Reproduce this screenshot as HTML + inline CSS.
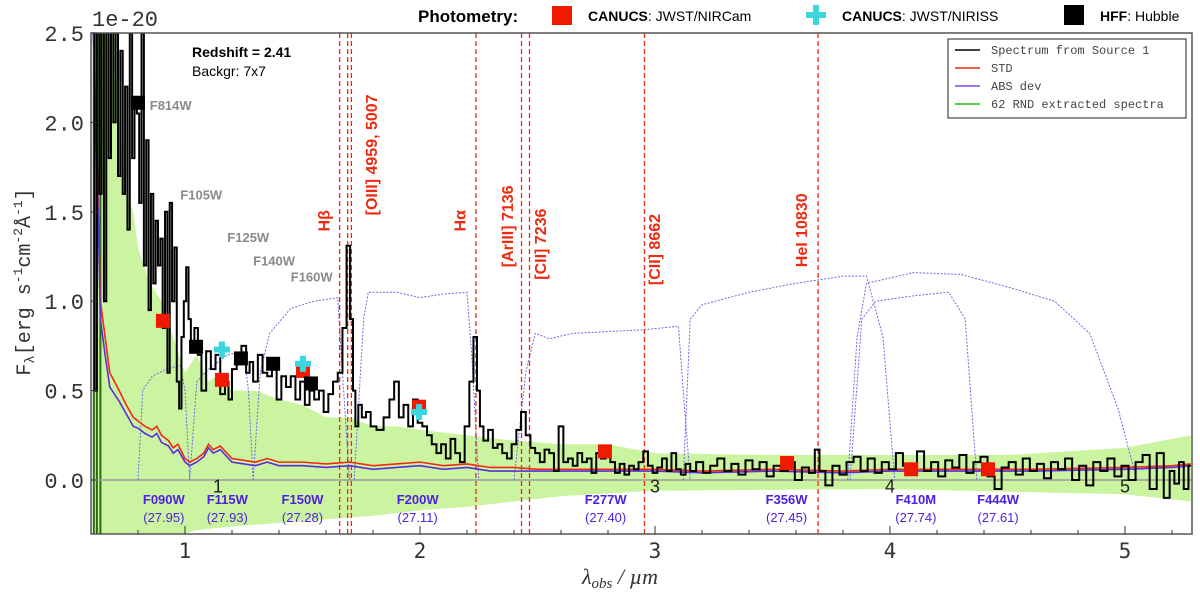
<!DOCTYPE html>
<html><head><meta charset="utf-8"><style>
body{margin:0;background:#fff;}
svg{display:block;font-family:"Liberation Sans",sans-serif;}
</style></head><body>
<svg id="c" width="1200" height="592" viewBox="0 0 1200 592">
<g>
<text x="418" y="22" font-size="17" font-weight="bold">Photometry:</text>
<rect x="552" y="6" width="20" height="19" fill="#f01a00"/>
<text x="588" y="21" font-size="14"><tspan font-weight="bold">CANUCS</tspan>: JWST/NIRCam</text>
<g><rect x="806" y="12" width="20" height="6" fill="#3cd6e0"/><rect x="813" y="5" width="6" height="20" fill="#3cd6e0"/></g>
<text x="842" y="21" font-size="14"><tspan font-weight="bold">CANUCS</tspan>: JWST/NIRISS</text>
<rect x="1064" y="5" width="20" height="20" fill="#000"/>
<text x="1100" y="21" font-size="14"><tspan font-weight="bold">HFF</tspan>: Hubble</text>
</g>
<g id="plot"></g>
</svg>
<script>
// ---- data ----
const specWave=[.61,.62,.63,.64,.65,.66,.67,.68,.69,.70,.71,.72,.73,.74,.75,.76,.77,.78,.79,.80,.81,.82,.83,.84,.85,.86,.87,.88,.89,.90,.91,.92,.93,.94,.95,.96,.97,.98,.99,1.00,1.01,1.02,1.03,1.05,1.06,1.08,1.10,1.12,1.14,1.16,1.18,1.19,1.21,1.23,1.25,1.27,1.28,1.30,1.32,1.34,1.36,1.38,1.40,1.42,1.44,1.46,1.48,1.50,1.52,1.54,1.56,1.58,1.60,1.62,1.64,1.66,1.68,1.695,1.71,1.72,1.73,1.745,1.76,1.78,1.80,1.83,1.86,1.88,1.90,1.92,1.94,1.96,1.98,2.00,2.02,2.04,2.06,2.08,2.10,2.12,2.14,2.16,2.18,2.20,2.22,2.235,2.25,2.26,2.28,2.30,2.32,2.34,2.36,2.38,2.40,2.42,2.44,2.46,2.48,2.50,2.52,2.54,2.56,2.58,2.60,2.62,2.64,2.66,2.68,2.70,2.72,2.74,2.76,2.78,2.80,2.82,2.84,2.86,2.88,2.90,2.92,2.94,2.96,2.98,3.00,3.02,3.04,3.06,3.08,3.10,3.12,3.14,3.16,3.19,3.22,3.25,3.28,3.31,3.34,3.37,3.40,3.43,3.46,3.49,3.52,3.55,3.58,3.61,3.64,3.67,3.69,3.71,3.74,3.77,3.80,3.83,3.86,3.89,3.92,3.95,3.98,4.01,4.04,4.07,4.10,4.13,4.16,4.19,4.22,4.25,4.28,4.31,4.34,4.37,4.40,4.43,4.46,4.49,4.52,4.55,4.58,4.61,4.64,4.67,4.70,4.73,4.76,4.79,4.82,4.85,4.88,4.91,4.94,4.97,5.00,5.03,5.06,5.09,5.12,5.15,5.18,5.20,5.22,5.24,5.26,5.28];
const specFlux=[2.5,0.5,2.5,1.6,2.5,1.0,2.5,1.8,2.5,2.0,2.5,1.7,2.4,1.6,2.2,1.4,2.5,1.8,2.1,2.05,1.55,2.5,1.2,1.9,0.95,1.6,1.1,1.45,1.2,1.35,0.85,1.5,0.6,1.55,1.0,1.3,0.55,0.4,0.8,1.0,1.19,0.9,0.75,0.85,0.7,0.5,0.72,0.62,0.7,0.48,0.55,0.45,0.62,0.7,0.75,0.6,0.66,0.55,0.7,0.6,0.58,0.62,0.45,0.58,0.52,0.58,0.45,0.55,0.42,0.5,0.45,0.5,0.38,0.48,0.55,0.6,0.85,1.31,0.9,0.5,0.3,0.42,0.35,0.38,0.3,0.28,0.35,0.45,0.55,0.35,0.42,0.3,0.45,0.32,0.3,0.25,0.2,0.15,0.2,0.12,0.23,0.15,0.1,0.3,0.55,0.8,0.5,0.3,0.22,0.28,0.18,0.2,0.15,0.12,0.2,0.28,0.38,0.25,0.18,0.15,0.1,0.17,0.15,0.05,0.3,0.1,0.12,0.08,0.15,0.1,0.12,0.04,0.15,0.12,0.17,0.1,0.04,0.09,0.03,0.08,0.06,0.1,0.16,0.08,0.04,0.07,0.12,0.05,0.15,0.06,0.03,0.09,0.05,0.1,0.04,0.08,0.12,0.05,0.09,0.03,0.11,0.06,0.1,0.02,0.08,0.05,0.1,0.0,0.07,0.04,0.17,0.05,-0.03,0.08,0.03,0.1,0.13,0.05,0.12,0.04,0.1,0.06,0.15,0.08,0.03,0.16,0.05,0.1,0.02,0.11,0.07,0.14,0.04,0.1,0.13,0.02,-0.05,0.07,0.1,0.03,0.12,0.05,0.09,0.01,0.1,0.06,0.12,0.0,0.08,-0.03,0.1,0.05,0.12,0.02,0.08,0.0,0.1,0.14,-0.05,0.15,-0.1,0.05,-0.02,0.1,-0.05,0.08];
const devWave=[.61,.62,.63,.64,.66,.68,.70,.72,.75,.78,.80,.83,.86,.88,.90,.93,.95,.97,1.0,1.02,1.05,1.08,1.1,1.12,1.15,1.2,1.25,1.3,1.35,1.4,1.5,1.6,1.7,1.8,1.9,2.0,2.1,2.2,2.3,2.4,2.5,2.6,2.8,3.0,3.2,3.5,3.8,4.0,4.3,4.6,5.0,5.2,5.28];
const stdVals=[2.5,2.1,1.6,1.0,0.8,0.6,0.55,0.5,0.42,0.35,0.33,0.3,0.28,0.3,0.25,0.22,0.18,0.2,0.12,0.1,0.12,0.15,0.2,0.17,0.19,0.12,0.11,0.1,0.12,0.1,0.1,0.09,0.1,0.08,0.09,0.1,0.08,0.09,0.07,0.07,0.06,0.06,0.06,0.06,0.05,0.06,0.05,0.06,0.06,0.06,0.07,0.08,0.09];
const absVals=[2.5,2.0,1.5,0.9,0.7,0.52,0.48,0.44,0.37,0.3,0.29,0.26,0.24,0.26,0.21,0.19,0.15,0.17,0.1,0.08,0.1,0.13,0.18,0.15,0.17,0.1,0.09,0.08,0.1,0.08,0.08,0.07,0.08,0.06,0.07,0.08,0.06,0.07,0.05,0.05,0.05,0.05,0.05,0.05,0.04,0.05,0.04,0.05,0.05,0.05,0.06,0.07,0.08];
const bandUpWave=[.61,.66,.70,.72,.75,.78,.80,.85,.90,.95,1.0,1.05,1.1,1.15,1.2,1.3,1.4,1.5,1.6,1.7,1.8,1.9,2.0,2.2,2.4,2.6,2.8,3.0,3.5,4.0,4.5,5.0,5.28];
const bandUp=[2.5,2.5,2.5,2.0,1.6,1.5,1.3,1.1,1.0,0.8,0.6,0.7,0.55,0.6,0.5,0.5,0.45,0.42,0.35,0.35,0.3,0.3,0.28,0.25,0.22,0.2,0.2,0.15,0.14,0.14,0.14,0.18,0.25];
const bandLoWave=[.61,.9,1.0,1.05,1.2,1.4,1.6,1.8,2.0,2.2,2.4,2.6,3.0,4.0,5.0,5.28];
const bandLo=[-0.3,-0.3,-0.3,-0.28,-0.26,-0.24,-0.22,-0.2,-0.17,-0.15,-0.12,-0.09,-0.06,-0.05,-0.08,-0.12];
const fF090W=[[.80,0],[.82,.5],[.86,.58],[.92,.62],[.98,.64],[1.0,.5],[1.02,0]];
const fF115W=[[1.02,0],[1.05,.55],[1.1,.62],[1.18,.7],[1.25,.72],[1.27,.5],[1.29,0]];
const fF150W=[[1.29,0],[1.32,.6],[1.36,.82],[1.45,.96],[1.55,1.0],[1.65,1.02],[1.67,.6],[1.70,0]];
const fF200W=[[1.72,0],[1.76,.9],[1.78,1.05],[1.9,1.05],[2.0,1.02],[2.1,1.04],[2.2,1.05],[2.22,.7],[2.25,0]];
const fF277W=[[2.4,0],[2.45,.6],[2.49,.82],[2.55,.79],[2.65,.82],[2.8,.83],[2.95,.84],[3.1,.86],[3.12,.5],[3.15,0]];
const fF356W=[[3.12,0],[3.15,.9],[3.2,.98],[3.4,1.05],[3.6,1.1],[3.8,1.14],[3.9,1.14],[3.97,.8],[4.02,0]];
const fF410M=[[3.83,0],[3.88,.9],[3.94,1.0],[4.1,1.03],[4.25,1.05],[4.32,.9],[4.37,0]];
const fF444W=[[3.82,0],[3.86,.8],[3.9,1.1],[4.1,1.16],[4.3,1.15],[4.5,1.08],[4.7,1.0],[4.85,.82],[4.97,.4],[5.05,0]];
const filterCurves=[fF090W,fF115W,fF150W,fF200W,fF277W,fF356W,fF410M,fF444W];
const filterNames=["F090W","F115W","F150W","F200W","F277W","F356W","F410M","F444W"];
const filterDepths=["(27.95)","(27.93)","(27.28)","(27.11)","(27.40)","(27.45)","(27.74)","(27.61)"];
const filterCenters=[.91,1.18,1.5,1.99,2.79,3.56,4.11,4.46];
const nircamWave=[.906,1.157,1.502,1.996,2.787,3.562,4.09,4.417];
const nircamFlux=[.89,.56,.61,.41,.16,.095,.06,.06];
const nirissWave=[1.157,1.502,1.996];
const nirissFlux=[.73,.65,.38];
const hffWave=[.80,1.047,1.238,1.375,1.536];
const hffFlux=[2.11,.745,.68,.65,.54];
const hstNames=["F814W","F105W","F125W","F140W","F160W"];
const hstLabelWave=[.85,.98,1.18,1.29,1.45];
const hstLabelFlux=[2.07,1.57,1.33,1.2,1.11];
const lineWave=[1.658,1.692,1.708,2.238,2.432,2.466,2.955,3.694];
const lineNames=["Hβ","[OIII] 4959, 5007","Hα","[ArIII] 7136","[CII] 7236","[CII] 8662","HeI 10830"];
const lineLabelWave=[1.614,1.817,2.193,2.396,2.536,3.021,3.646];
const lineLabelFlux=[1.39,1.48,1.39,1.19,1.12,1.09,1.19];
const xTicks=[1,2,3,4,5];
const yTicks=[0,0.5,1.0,1.5,2.0,2.5];

// ---- axes ----
const L=91,R=1192,T=33,B=534;
const X=w=>185+(w-1)*235;
const Y=f=>480-f*178.8;
const NS="http://www.w3.org/2000/svg";
const plot=document.getElementById('plot');
function mk(tag,attrs,parent){const e=document.createElementNS(NS,tag);for(const k in attrs)e.setAttribute(k,attrs[k]);(parent||plot).appendChild(e);return e;}
const defs=mk('defs',{});
const cp=mk('clipPath',{id:'clip'},defs);mk('rect',{x:L,y:T,width:R-L,height:B-T},cp);
const g=mk('g',{'clip-path':'url(#clip)'});



let bp='';
bandUpWave.forEach((w,i)=>{bp+=(i?'L':'M')+X(w)+','+Y(bandUp[i]);});
for(let i=bandLoWave.length-1;i>=0;i--)bp+='L'+X(bandLoWave[i])+','+Y(bandLo[i]);
const band=mk('path',{d:bp+'Z',fill:'#c2f290',opacity:'0.85'},g);


[0.612,0.625,0.64].forEach(w=>{const l=mk('line',{x1:X(w),x2:X(w),y1:T,y2:B,stroke:'#2a6a10','stroke-width':2},g);

});

const zl=mk('line',{x1:L,x2:R,y1:Y(0),y2:Y(0),stroke:'#999','stroke-width':1.5},g);



filterCurves.forEach((c,i)=>{const p=mk('polyline',{points:c.map(q=>X(q[0])+','+Y(q[1])).join(' '),fill:'none',stroke:'#6b6be6','stroke-width':1,'stroke-dasharray':'2,1.5'},g);

});

lineWave.forEach(w=>{const l=mk('line',{x1:X(w),x2:X(w),y1:T,y2:B,stroke:'#f02a10','stroke-width':1.3,'stroke-dasharray':'5,3'},g);

});

function line(ws,vs,col,w,name){let d='';ws.forEach((x,i)=>{d+=(i?'L':'M')+X(x)+','+Y(vs[i]);});const p=mk('path',{d:d,fill:'none',stroke:col,'stroke-width':w},g);

return p;}
line(devWave,stdVals,'#f02a10',1.6,'std-line');
line(devWave,absVals,'#5a2ee0',1.6,'abs-dev-line');

let sd='';
specWave.forEach((w,i)=>{const x0=i?(X(specWave[i-1])+X(w))/2:X(w);const x1=i<specWave.length-1?(X(w)+X(specWave[i+1]))/2:X(w);sd+=(i?'L':'M')+x0+','+Y(specFlux[i])+'L'+x1+','+Y(specFlux[i]);});
const sp=mk('path',{d:sd,fill:'none',stroke:'#000','stroke-width':2,'stroke-linejoin':'miter'},g);



nircamWave.forEach((w,i)=>{const r=mk('rect',{x:X(w)-7,y:Y(nircamFlux[i])-7,width:14,height:14,fill:'#f01a00'},g);

});
hffWave.forEach((w,i)=>{const r=mk('rect',{x:X(w)-7,y:Y(hffFlux[i])-7,width:14,height:14,fill:'#000'},g);

});
nirissWave.forEach((w,i)=>{const cx=X(w),cy=Y(nirissFlux[i]);const gg=mk('g',{fill:'#3cd6e0'},g);


mk('rect',{x:cx-8,y:cy-3,width:16,height:6},gg);mk('rect',{x:cx-3,y:cy-8,width:6,height:16},gg);});

filterNames.forEach((n,i)=>{const t=mk('text',{x:X(filterCenters[i]),y:504,'text-anchor':'middle','font-size':13,'font-weight':'bold',fill:'#5020e0'});t.textContent=n;


const t2=mk('text',{x:X(filterCenters[i]),y:522,'text-anchor':'middle','font-size':13,fill:'#5020e0'});t2.textContent=filterDepths[i];

});
hstNames.forEach((n,i)=>{const t=mk('text',{x:X(hstLabelWave[i]),y:Y(hstLabelFlux[i]),'font-size':13,'font-weight':'bold',fill:'#8a8a8a'});t.textContent=n;

});
lineNames.forEach((n,i)=>{const x=X(lineLabelWave[i]),y=Y(lineLabelFlux[i]);const t=mk('text',{x:x,y:y,transform:`rotate(-90 ${x} ${y})`,'font-size':16,'font-weight':'bold',fill:'#f02a10'});t.textContent=n;

});
[[1.14,'1'],[3.0,'3'],[4.0,'4'],[5.0,'5']].forEach(a=>{const t=mk('text',{x:X(a[0]),y:Y(-0.07),'text-anchor':'middle','font-size':18,fill:'#222'});t.textContent=a[1];

});
const rs=mk('text',{x:192,y:57,'font-size':14,'font-weight':'bold'});rs.textContent='Redshift = 2.41';


const bg=mk('text',{x:192,y:76,'font-size':14});bg.textContent='Backgr: 7x7';



const fr=mk('rect',{x:L,y:T,width:R-L,height:B-T,fill:'none',stroke:'#555','stroke-width':1.5});


for(let w=0.8;w<5.3;w+=0.2){const major=Math.abs(w-Math.round(w))<1e-6;mk('line',{x1:X(w),x2:X(w),y1:B,y2:B-(major?8:4),stroke:'#333','stroke-width':1});}
xTicks.forEach(v=>{const t=mk('text',{x:X(v),y:558,'text-anchor':'middle','font-size':21,'font-family':'DejaVu Sans Mono, Liberation Mono, monospace',fill:'#333','font-weight':'200'});t.textContent=v;

});
yTicks.forEach(v=>{const t=mk('text',{x:84,y:Y(v)+8,'text-anchor':'end','font-size':22,'font-family':'Liberation Mono, monospace',fill:'#333'});t.textContent=v.toFixed(1);


mk('line',{x1:L,x2:L+6,y1:Y(v),y2:Y(v),stroke:'#333'});});
const ex=mk('text',{x:92,y:26,'font-size':22,'font-family':'Liberation Mono, monospace',fill:'#333'});ex.textContent='1e-20';


const xl=mk('text',{x:620,y:584,'text-anchor':'middle','font-size':22,'font-family':'Liberation Serif, serif','font-style':'italic',fill:'#333'});xl.innerHTML='λ<tspan font-size="15" dy="4">obs</tspan><tspan dy="-4"> / µm</tspan>';


const yl=mk('text',{x:30,y:282,'text-anchor':'middle','font-size':20,'font-family':'Liberation Mono, monospace',fill:'#333',transform:'rotate(-90 30 282)'});yl.innerHTML='F<tspan font-size="14" dy="4">λ</tspan><tspan dy="-4">[erg s</tspan><tspan font-size="13" dy="-8">-1</tspan><tspan dy="8">cm</tspan><tspan font-size="13" dy="-8">-2</tspan><tspan dy="8">Å</tspan><tspan font-size="13" dy="-8">-1</tspan><tspan dy="8">]</tspan>';



const lg=mk('g',{});


mk('rect',{x:948,y:39,width:238,height:79,fill:'#fff',stroke:'#222','stroke-width':1},lg);
const legNames=['Spectrum from Source 1','STD','ABS dev','62 RND extracted spectra'];
const legCols=['#000','#f02a10','#7a4ae8','#22c01a'];
legNames.forEach((n,i)=>{const y=50+i*18;mk('line',{x1:955,x2:980,y1:y,y2:y,stroke:legCols[i],'stroke-width':1.5},lg);
const t=mk('text',{x:991,y:y+4,'font-size':12,'font-family':'Liberation Mono, monospace',fill:'#444'},lg);t.textContent=n;

});
</script>
</body></html>
